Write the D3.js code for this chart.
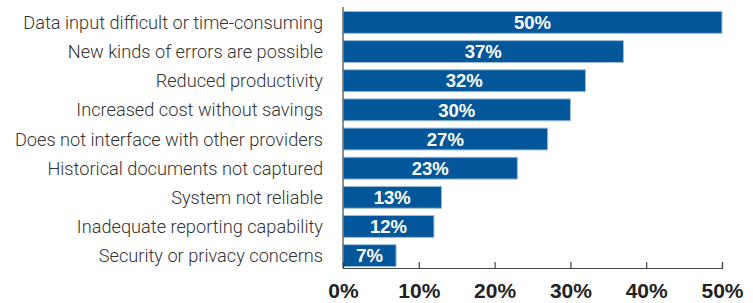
<!DOCTYPE html>
<html>
<head>
<meta charset="utf-8">
<script src="https://cdn.jsdelivr.net/npm/d3@7"></script>
<style>
  body { margin: 0; background: #fff; }
  svg { display: block; }
</style>
</head>
<body>
<div id="chart-area"></div>
<script>
const CATEGORIES = [
  'Data input difficult or time-consuming',
  'New kinds of errors are possible',
  'Reduced productivity',
  'Increased cost without savings',
  'Does not interface with other providers',
  'Historical documents not captured',
  'System not reliable',
  'Inadequate reporting capability',
  'Security or privacy concerns',
];
const VALUES = [50, 37, 32, 30, 27, 23, 13, 12, 7];
const TICKS = [0, 10, 20, 30, 40, 50];

const margin = { top: 7, right: 31, bottom: 35, left: 343 };
const width = 753 - margin.left - margin.right;
const height = 303 - margin.top - margin.bottom;

const x = d3.scaleLinear()
  .domain([0, 50])
  .range([0, width]);

const y = d3.scaleBand()
  .domain(CATEGORIES)
  .range([3, height])
  .paddingInner(0.25)
  .paddingOuter(0.05);

const svg = d3.select('#chart-area')
  .append('svg')
  .attr('width', 753)
  .attr('height', 303);

const chart = svg.append('g')
  .attr('transform', `translate(${margin.left},${margin.top})`);

// bars
chart.selectAll('.bar')
  .data(VALUES)
  .enter()
  .append('rect')
  .attr('class', 'bar')
  .attr('x', 0.5)
  .attr('y', (d, i) => y(CATEGORIES[i]))
  .attr('width', (d) => x(d) - 0.5)
  .attr('height', y.bandwidth())
  .attr('fill', '#02569a')
  .attr('stroke', '#9dbbd9')
  .attr('stroke-width', 1);

// value labels
chart.selectAll('.value')
  .data(VALUES)
  .enter()
  .append('text')
  .attr('class', 'value')
  .attr('x', (d) => x(d) / 2)
  .attr('y', (d, i) => y(CATEGORIES[i]) + y.bandwidth() / 2)
  .attr('dy', '0.36em')
  .attr('text-anchor', 'middle')
  .attr('fill', '#fff')
  .style('font-family', '"Liberation Sans", Arial, sans-serif')
  .style('font-weight', 'bold')
  .style('font-size', '18.5px')
  .text((d) => d + '%');

// category labels
chart.selectAll('.cat')
  .data(CATEGORIES)
  .enter()
  .append('text')
  .attr('class', 'cat')
  .attr('x', -20)
  .attr('y', (d) => y(d) + y.bandwidth() / 2)
  .attr('dy', '0.36em')
  .attr('text-anchor', 'end')
  .attr('fill', '#333')
  .style('font-family', 'Roboto, sans-serif')
  .style('font-weight', 300)
  .style('font-size', '18.2px')
  .text((d) => d);

// y axis line
chart.append('line')
  .attr('x1', 0).attr('x2', 0)
  .attr('y1', 0).attr('y2', height)
  .attr('stroke', '#444')
  .attr('stroke-width', 1.2);

// x axis
const xAxis = d3.axisBottom(x)
  .tickValues(TICKS)
  .tickSize(-6)
  .tickPadding(15)
  .tickFormat((d) => d + '%');

const gx = chart.append('g')
  .attr('class', 'x-axis')
  .attr('transform', `translate(0,${height})`)
  .call(xAxis);

gx.select('.domain')
  .attr('stroke', '#444')
  .attr('stroke-width', 1.2);
gx.selectAll('.tick line')
  .attr('stroke', '#444')
  .attr('stroke-width', 1.2);
gx.selectAll('.tick text')
  .attr('fill', '#222')
  .style('font-family', '"Liberation Sans", Arial, sans-serif')
  .style('font-weight', 'bold')
  .style('font-size', '21px');
</script>
</body>
</html>
